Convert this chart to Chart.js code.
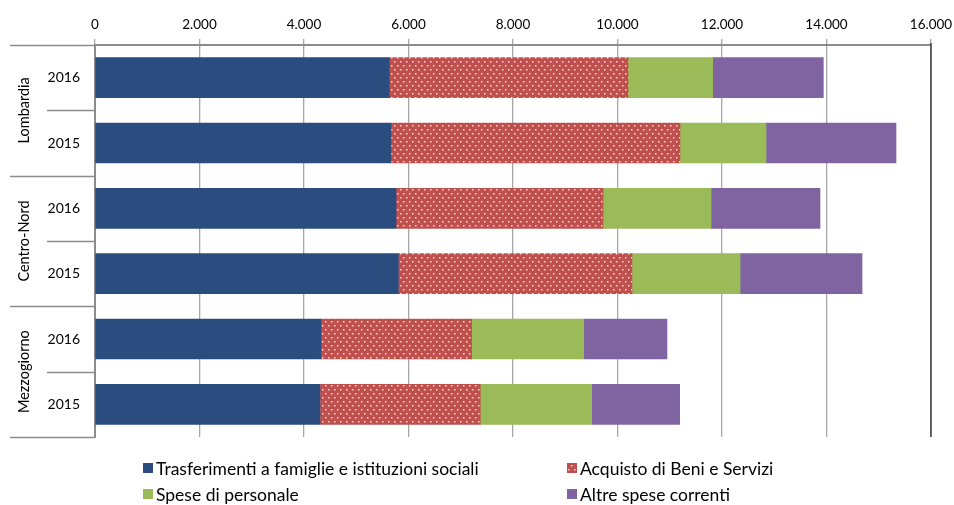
<!DOCTYPE html>
<html lang="it">
<head>
<meta charset="UTF-8">
<title>Spesa sociale</title>
<style>
  html, body { margin: 0; padding: 0; background: #fff; }
  #box { width: 954px; height: 505px; }
</style>
</head>
<body>
<div id="box"><canvas id="myChart"></canvas></div>
<script src="https://cdn.jsdelivr.net/npm/chart.js"></script>
<script>
// dati (migliaia di euro)
const v_regioni = ["Lombardia", "Centro-Nord", "Mezzogiorno"];
const v_anni = ["2016", "2015", "2016", "2015", "2016", "2015"];
const v_trasferimenti = [5633, 5665, 5761, 5805, 4325, 4306];
const v_acquisto = [4568, 5531, 3962, 4473, 2884, 3068];
const v_personale = [1621, 1646, 2067, 2067, 2144, 2132];
const v_altre = [2117, 2488, 2086, 2335, 1594, 1684];
const v_serie = ["Trasferimenti a famiglie e istituzioni sociali", "Acquisto di Beni e Servizi",
                 "Spese di personale", "Altre spese correnti"];

const FONT = "Lato, 'Open Sans', sans-serif";

// motivo a puntini per la seconda serie
function f_pattern() {
    let c = document.createElement("canvas");
    c.width = 6; c.height = 8;
    let g = c.getContext("2d");
    g.fillStyle = "#C0504D";
    g.fillRect(0, 0, 6, 8);
    g.fillStyle = "rgba(255,235,235,0.9)";
    g.fillRect(1, 1, 1.5, 1.5);
    g.fillRect(4, 5, 1.5, 1.5);
    return g.createPattern(c, "repeat");
}
const v_dots = f_pattern();

function f_num(v) {
    return String(v).replace(/\B(?=(\d{3})+(?!\d))/g, ".");
}

// etichette di gruppo, separatori e legenda
const v_extra = {
    id: "extra",
    afterDraw(chart) {
        const ctx = chart.ctx;
        const y = chart.scales.y;
        const a = chart.chartArea;
        const half = (y.getPixelForValue(1) - y.getPixelForValue(0)) / 2;
        ctx.save();
        ctx.strokeStyle = "#8c8c8c";
        ctx.lineWidth = 1.5;
        for (let i = 0; i <= v_anni.length; i++) {
            let py = Math.round(y.getPixelForValue(i) - half) + 0.5;
            let x0 = (i % 2 === 0) ? 10 : 47;
            ctx.beginPath();
            ctx.moveTo(x0, py);
            ctx.lineTo(a.left, py);
            ctx.stroke();
        }
        ctx.fillStyle = "#000";
        ctx.font = "14.5px " + FONT;
        ctx.textAlign = "center";
        ctx.textBaseline = "middle";
        for (let k = 0; k < v_regioni.length; k++) {
            let cy = (y.getPixelForValue(2 * k) + y.getPixelForValue(2 * k + 1)) / 2;
            ctx.save();
            ctx.translate(24, cy);
            ctx.rotate(-Math.PI / 2);
            ctx.fillText(v_regioni[k], 0, 0);
            ctx.restore();
        }
        // bordo destro
        ctx.strokeStyle = "#404040";
        ctx.lineWidth = 1.5;
        ctx.beginPath();
        ctx.moveTo(a.right, a.top - 2);
        ctx.lineTo(a.right, a.bottom);
        ctx.stroke();
        // legenda
        const pos = [[143, 468], [567, 468], [143, 494], [567, 494]];
        ctx.font = "17.5px " + FONT;
        ctx.textAlign = "left";
        chart.data.datasets.forEach((ds, i) => {
            ctx.fillStyle = ds.backgroundColor;
            ctx.fillRect(pos[i][0], pos[i][1] - 5, 10, 10);
            ctx.fillStyle = "#000";
            ctx.fillText(ds.label, pos[i][0] + 13, pos[i][1] + 1);
        });
        ctx.restore();
    }
};

const ctx = document.getElementById("myChart");
let myChart = new Chart(ctx, {
    type: "bar",
    data: {
        labels: v_anni,
        datasets: [
            { label: v_serie[0], data: v_trasferimenti, backgroundColor: "#2B4C7E" },
            { label: v_serie[1], data: v_acquisto, backgroundColor: v_dots },
            { label: v_serie[2], data: v_personale, backgroundColor: "#9BBB59" },
            { label: v_serie[3], data: v_altre, backgroundColor: "#8064A2" }
        ]
    },
    options: {
        indexAxis: "y",
        responsive: true,
        maintainAspectRatio: false,
        animation: false,
        layout: { padding: { left: 0, right: 23, top: 0, bottom: 68 } },
        datasets: { bar: { barThickness: 40, borderWidth: 0 } },
        plugins: { legend: { display: false }, tooltip: { enabled: false } },
        scales: {
            x: {
                position: "top",
                stacked: true,
                min: 0, max: 16000,
                afterFit(s) { s.height = 45; s.paddingLeft = 0; s.paddingRight = 0; },
                ticks: {
                    stepSize: 2000,
                    color: "#000",
                    font: { family: FONT, size: 13.5 },
                    padding: 6,
                    callback: (v) => f_num(v)
                },
                grid: { color: "#a6a6a6", lineWidth: 1.3, tickLength: 6 },
                border: { color: "#8c8c8c", width: 2 }
            },
            y: {
                stacked: true,
                afterFit(s) { s.width = 95; },
                ticks: {
                    color: "#000",
                    font: { family: FONT, size: 14 },
                    padding: 15
                },
                grid: { display: false, drawTicks: false },
                border: { color: "#8c8c8c", width: 2 }
            }
        }
    },
    plugins: [v_extra]
});
</script>
</body>
</html>
